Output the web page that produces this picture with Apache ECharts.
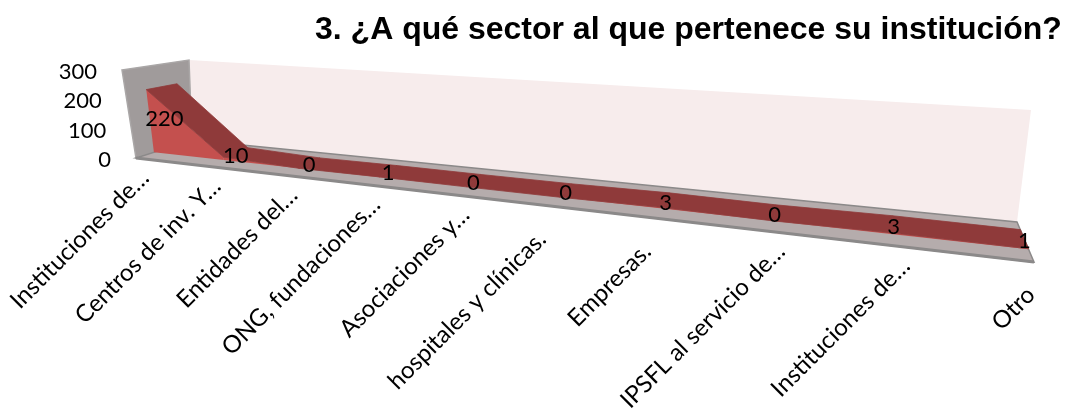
<!DOCTYPE html>
<html>
<head>
<meta charset="utf-8">
<title>Sector</title>
<style>html,body{margin:0;padding:0;background:#fff}#chart{width:1067px;height:409px}</style>
<script src="https://cdn.jsdelivr.net/npm/echarts@6/dist/echarts.min.js"></script>
</head>
<body>
<div id="chart"></div>
<script>
var chartTitle = '3. ¿A qué sector al que pertenece su institución?'
var categories = ['Instituciones de…', 'Centros de inv. Y…', 'Entidades del…', 'ONG, fundaciones…', 'Asociaciones y…',
  'hospitales y clínicas.', 'Empresas.', 'IPSFL al servicio de…', 'Instituciones de…', 'Otro']
var values = [220, 10, 0, 1, 0, 0, 3, 0, 3, 1]
var valueTicks = [0, 100, 200, 300]

// screen corners of the 3d box: front/back, floor/top, left/right
var box = {
  leftFloor: [[136, 158], [192, 140]],
  leftTop: [[122, 70], [189, 60]],
  rightFloor: [[1034, 262], [1017, 222]],
  rightTop: [[1049, 139], [1031, 110]]
}
var persp = -0.306    // foreshortening along the category axis
var bandFront = 0.32  // area depth inside the floor
var bandBack = 0.8
var numberFont = '22px Lato, "Noto Sans", sans-serif'
var categoryFont = '24px Lato, "Noto Sans", sans-serif'

function mix(a, b, t) {
  return [a[0] + (b[0] - a[0]) * t, a[1] + (b[1] - a[1]) * t]
}
// u along categories, d depth, w height, all 0..1
function project(u, d, w) {
  var f = (1 + persp) * u / (1 + persp * u)
  var left = mix(mix(box.leftFloor[0], box.leftFloor[1], d), mix(box.leftTop[0], box.leftTop[1], d), w)
  var right = mix(mix(box.rightFloor[0], box.rightFloor[1], d), mix(box.rightTop[0], box.rightTop[1], d), w)
  return mix(left, right, f)
}
function toUnit(params, api, x, y) {
  var p = api.coord([x, y])
  var r = params.coordSys
  return [(p[0] - r.x) / r.width, (r.y + r.height - p[1]) / r.height]
}
function poly(points, fill, stroke, width) {
  return {
    type: 'polygon',
    shape: { points: points },
    style: { fill: fill, stroke: stroke || null, lineWidth: width || 0 }
  }
}
function label(pos, text, align, font, rotation) {
  return {
    type: 'text', x: pos[0], y: pos[1], rotation: rotation || 0,
    style: { text: text, font: font, fill: '#000', align: align, verticalAlign: 'middle' }
  }
}

function renderWalls() {
  var back = [project(0, 1, 1), project(1, 1, 1), project(1, 1, 0), project(0, 1, 0)]
  var side = [project(0, 0, 1), project(0, 1, 1), project(0, 1, 0), project(0, 0, 0)]
  var floor = [project(0, 0, 0), project(0, 1, 0), project(1, 1, 0), project(1, 0, 0)]
  return {
    type: 'group',
    children: [
      poly(back, '#f7ecec'),
      poly(side, '#a09b9b', '#aaa7a7', 1.5),
      poly(floor, '#b5acac', '#8b8989', 1.5),
      { type: 'polyline', shape: { points: [project(0, 0, 0), project(1, 0, 0)] }, style: { stroke: '#8b8989', lineWidth: 3, fill: null } }
    ]
  }
}

function renderArea(params, api) {
  var i = api.value(0)
  if (i >= categories.length - 1) return null
  var a = toUnit(params, api, i, api.value(1))
  var b = toUnit(params, api, i + 1, values[i + 1])
  return {
    type: 'group',
    children: [
      poly([project(a[0], bandFront, 0), project(a[0], bandFront, a[1]), project(b[0], bandFront, b[1]), project(b[0], bandFront, 0)], '#c4504e'),
      poly([project(a[0], bandFront, a[1]), project(a[0], bandBack, a[1]), project(b[0], bandBack, b[1]), project(b[0], bandFront, b[1])], '#8f3a3a', '#8f3a3a', 0.8)
    ]
  }
}

function renderLabels(params, api) {
  var i = api.value(0)
  var v = api.value(1)
  var a = toUnit(params, api, i, v)
  var tick = project(a[0], 0, 0)
  // truncated labels sit closer to the floor, the last one is pushed in by the edge
  var cut = categories[i].slice(-1) === '…'
  var dx = cut ? 9 : (i === categories.length - 1 ? -3 : -11)
  var dy = cut ? 16 : 29
  var mid = project(a[0], (bandFront + bandBack) / 2, a[1] / 2)
  return {
    type: 'group',
    children: [
      label([mid[0], mid[1] + 2], String(v), 'center', numberFont),
      label([tick[0] + dx, tick[1] + dy], categories[i], 'right', categoryFont, Math.PI / 4)
    ]
  }
}

function renderTicks(params, api) {
  var a = toUnit(params, api, 0, api.value(0))
  var p = project(0, 0, a[1])
  return label([p[0] - 25, p[1] + 2], String(api.value(0)), 'right', numberFont)
}

var chart = echarts.init(document.getElementById('chart'))
chart.setOption({
  animation: false,
  title: {
    text: chartTitle, left: 310, top: 9,
    textStyle: { fontFamily: '"Liberation Sans", Arial, sans-serif', fontWeight: 'bold', fontSize: 32, color: '#000' }
  },
  grid: { left: 122, top: 71, width: 912, height: 87 },
  xAxis: { type: 'category', data: categories, boundaryGap: false, show: false },
  yAxis: { type: 'value', min: 0, max: 300, interval: 100, show: false },
  series: [
    { type: 'custom', silent: true, z: 1, data: [[0, 0]], renderItem: renderWalls, clip: false },
    { type: 'custom', silent: true, z: 2, data: values.map(function (v, i) { return [i, v] }), encode: { x: 0, y: 1 }, renderItem: renderArea, clip: false },
    { type: 'custom', silent: true, z: 3, data: values.map(function (v, i) { return [i, v] }), encode: { x: 0, y: 1 }, renderItem: renderLabels, clip: false },
    { type: 'custom', silent: true, z: 3, data: valueTicks.map(function (v) { return [v] }), encode: { y: 0 }, renderItem: renderTicks, clip: false }
  ]
})
</script>
</body>
</html>
